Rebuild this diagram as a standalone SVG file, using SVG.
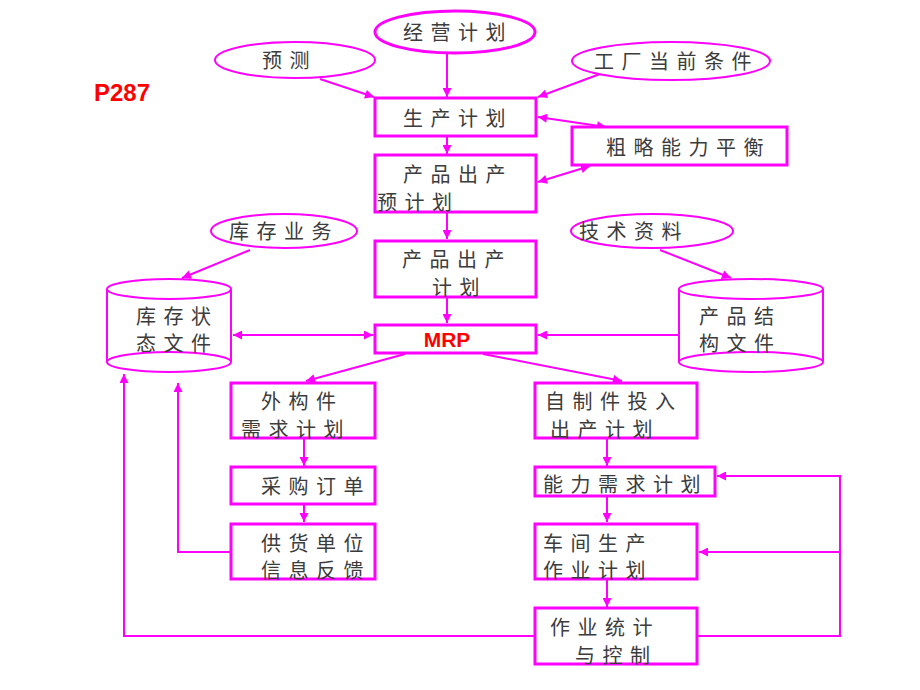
<svg xmlns="http://www.w3.org/2000/svg" width="920" height="690" viewBox="0 0 920 690">
<style>
.box{fill:#fff;stroke:#ff00ff;stroke-width:3}
.ell{fill:#fff;stroke:#ff00ff;stroke-width:2}
.cyl{fill:none;stroke:#ff00ff;stroke-width:2}
.ln{fill:none;stroke:#ff00ff;stroke-width:2}
.t{font-family:"Noto Sans CJK SC","Noto Sans",sans-serif;font-size:20px;fill:#3c3c3c;letter-spacing:7.5px;dominant-baseline:central}
.red{font-family:"Liberation Sans",Arial,sans-serif;font-weight:bold;fill:#ff0000}
</style>
<defs>
<marker id="ah" viewBox="0 0 10 10" refX="10" refY="5" markerWidth="10" markerHeight="9" markerUnits="userSpaceOnUse" orient="auto-start-reverse">
<path d="M0,0 L10,5 L0,10 z" fill="#ff00ff"/>
</marker>
</defs>
<rect width="920" height="690" fill="#fff"/>
<text class="red" x="94" y="101" font-size="24">P287</text>

<g id="connectors">
<line class="ln" x1="447" y1="53" x2="447" y2="97" marker-end="url(#ah)"/>
<line class="ln" x1="320" y1="79" x2="374" y2="97" marker-end="url(#ah)"/>
<line class="ln" x1="600" y1="74" x2="538" y2="97" marker-end="url(#ah)"/>
<line class="ln" x1="538" y1="117" x2="606" y2="127" marker-start="url(#ah)" marker-end="url(#ah)"/>
<line class="ln" x1="538" y1="182" x2="590" y2="166" marker-start="url(#ah)" marker-end="url(#ah)"/>
<line class="ln" x1="447" y1="137" x2="447" y2="154" marker-end="url(#ah)"/>
<line class="ln" x1="447" y1="213" x2="447" y2="239" marker-end="url(#ah)"/>
<line class="ln" x1="447" y1="298" x2="447" y2="323" marker-end="url(#ah)"/>
<line class="ln" x1="250" y1="250" x2="182" y2="278" marker-end="url(#ah)"/>
<line class="ln" x1="660" y1="250" x2="731" y2="278" marker-end="url(#ah)"/>
<line class="ln" x1="233" y1="335" x2="373" y2="335" marker-start="url(#ah)" marker-end="url(#ah)"/>
<line class="ln" x1="678" y1="335" x2="538" y2="335" marker-end="url(#ah)"/>
<line class="ln" x1="405" y1="354" x2="306" y2="381" marker-end="url(#ah)"/>
<line class="ln" x1="483" y1="354" x2="622" y2="381" marker-end="url(#ah)"/>
<line class="ln" x1="304" y1="439" x2="304" y2="466" marker-end="url(#ah)"/>
<line class="ln" x1="304" y1="505" x2="304" y2="522" marker-end="url(#ah)"/>
<polyline class="ln" points="231,552 178,552 178,383" marker-end="url(#ah)"/>
<line class="ln" x1="607" y1="439" x2="607" y2="466" marker-end="url(#ah)"/>
<line class="ln" x1="607" y1="497" x2="607" y2="522" marker-end="url(#ah)"/>
<line class="ln" x1="607" y1="580" x2="607" y2="607" marker-end="url(#ah)"/>
<polyline class="ln" points="535,636 124,636 124,374" marker-end="url(#ah)"/>
<polyline class="ln" points="697,636 840,636 840,476 717,476" marker-end="url(#ah)"/>
<line class="ln" x1="840" y1="552" x2="699" y2="552" marker-end="url(#ah)"/>
</g>

<g id="n-jingying"><ellipse class="ell" style="stroke-width:3" cx="455" cy="32" rx="80" ry="21"/><text class="t" x="403" y="31">经营计划</text></g>
<g id="n-yuce"><ellipse class="ell" cx="295" cy="60" rx="80" ry="18"/><text class="t" x="262" y="59">预测</text></g>
<g id="n-gongchang"><ellipse class="ell" cx="671" cy="61" rx="99" ry="19"/><text class="t" x="594" y="60">工厂当前条件</text></g>
<g id="n-shengchan"><rect class="box" x="375" y="98" width="161" height="38"/><text class="t" x="403" y="117">生产计划</text></g>
<g id="n-culue"><rect class="box" x="572" y="127" width="215" height="38"/><text class="t" x="606" y="146">粗略能力平衡</text></g>
<g id="n-yujihua"><rect class="box" x="375" y="155" width="161" height="57"/><text class="t" x="403" y="173">产品出产</text><text class="t" x="377" y="201">预计划</text></g>
<g id="n-kucunyewu"><ellipse class="ell" cx="284" cy="231" rx="73" ry="17"/><text class="t" x="229" y="230">库存业务</text></g>
<g id="n-jishu"><ellipse class="ell" cx="652" cy="231" rx="81" ry="17"/><text class="t" x="579" y="230">技术资料</text></g>
<g id="n-chanchu"><rect class="box" x="375" y="241" width="161" height="56"/><text class="t" x="402" y="258">产品出产</text><text class="t" x="432" y="286">计划</text></g>
<g id="n-kucunwenjian">
<path class="cyl" d="M107,289 L107,362 M231,289 L231,362"/>
<ellipse class="cyl" cx="169" cy="289" rx="62" ry="10"/>
<ellipse class="cyl" cx="169" cy="362" rx="62" ry="10"/>
<text class="t" x="136" y="315">库存状</text><text class="t" x="136" y="342">态文件</text></g>
<g id="n-jiegou">
<path class="cyl" d="M679,289 L679,362 M823,289 L823,362"/>
<ellipse class="cyl" cx="751" cy="289" rx="72" ry="10"/>
<ellipse class="cyl" cx="751" cy="362" rx="72" ry="10"/>
<text class="t" x="699" y="315">产品结</text><text class="t" x="699" y="342">构文件</text></g>
<g id="n-mrp"><rect class="box" x="375" y="325" width="161" height="28"/><text class="red" x="447" y="347" font-size="21" text-anchor="middle">MRP</text></g>
<g id="n-waigou"><rect class="box" x="231" y="383" width="144" height="55"/><text class="t" x="261" y="400">外构件</text><text class="t" x="241" y="428">需求计划</text></g>
<g id="n-caigou"><rect class="box" x="231" y="467" width="144" height="37"/><text class="t" x="261" y="485">采购订单</text></g>
<g id="n-gonghuo"><rect class="box" x="231" y="524" width="144" height="55"/><text class="t" x="261" y="542">供货单位</text><text class="t" x="261" y="569">信息反馈</text></g>
<g id="n-zizhi"><rect class="box" x="535" y="383" width="162" height="55"/><text class="t" x="545" y="400">自制件投入</text><text class="t" x="550" y="428">出产计划</text></g>
<g id="n-nengli"><rect class="box" x="535" y="467" width="180" height="29"/><text class="t" x="543" y="483">能力需求计划</text></g>
<g id="n-chejian"><rect class="box" x="535" y="524" width="162" height="55"/><text class="t" x="543" y="542">车间生产</text><text class="t" x="543" y="569">作业计划</text></g>
<g id="n-tongji"><rect class="box" x="535" y="608" width="162" height="56"/><text class="t" x="550" y="626">作业统计</text><text class="t" x="575" y="654">与控制</text></g>
</svg>
